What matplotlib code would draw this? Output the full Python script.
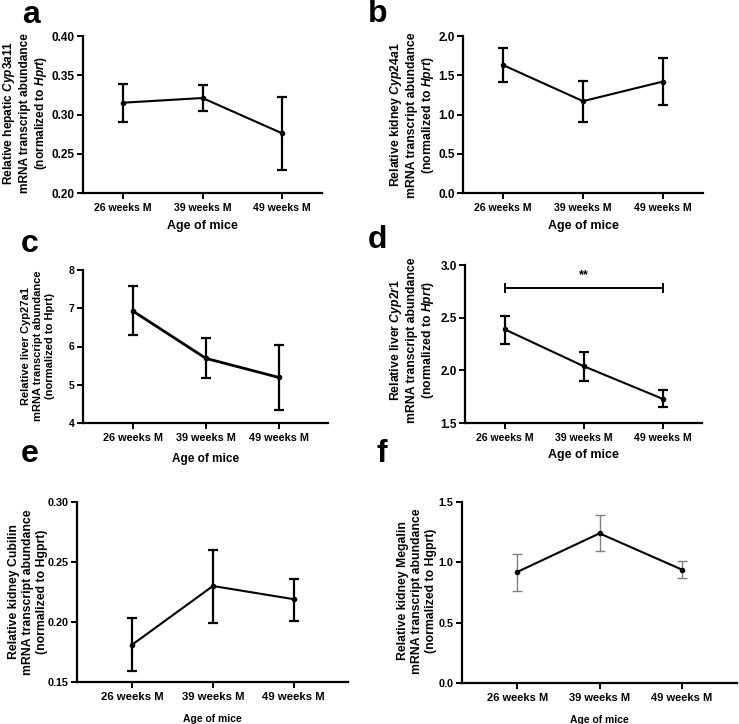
import matplotlib
matplotlib.use('Agg')
import matplotlib.pyplot as plt

plt.rcParams['font.family'] = ['Liberation Sans', 'DejaVu Sans']
plt.rcParams['font.weight'] = 'bold'
plt.rcParams['mathtext.fontset'] = 'custom'
plt.rcParams['mathtext.rm'] = 'Liberation Sans:bold'
plt.rcParams['mathtext.it'] = 'Liberation Sans:italic:bold'
plt.rcParams['mathtext.bf'] = 'Liberation Sans:bold'

groups = ['26 weeks M', '39 weeks M', '49 weeks M']

# mean, lower and upper end of the error bar
a_mean = [0.315, 0.321, 0.276]
a_lo = [0.290, 0.304, 0.229]
a_hi = [0.339, 0.337, 0.322]

b_mean = [1.63, 1.17, 1.42]
b_lo = [1.42, 0.91, 1.12]
b_hi = [1.85, 1.43, 1.72]

c_mean = [6.93, 5.69, 5.19]
c_lo = [6.29, 5.17, 4.34]
c_hi = [7.58, 6.23, 6.04]

d_mean = [2.39, 2.04, 1.73]
d_lo = [2.25, 1.90, 1.65]
d_hi = [2.52, 2.17, 1.81]

e_mean = [0.181, 0.230, 0.219]
e_lo = [0.159, 0.199, 0.201]
e_hi = [0.203, 0.260, 0.236]

f_mean = [0.92, 1.24, 0.94]
f_lo = [0.76, 1.09, 0.87]
f_hi = [1.07, 1.39, 1.01]

fig = plt.figure(figsize=(7.39, 7.24), dpi=100)
W, H = 739, 724


def make_axes(x0, x1, y0, y1):
    return fig.add_axes([x0 / W, 1 - y1 / H, (x1 - x0) / W, (y1 - y0) / H])


def panel(ax, mean, lo, hi, ylim, yticks, ylabels, xlim, ylab, ylab_xy,
          fs_xtick=7.6, fs_ytick=8.5, fs_lab=9, ylab_fs=8.8, err_color='black',
          err_lw=1.6, line_lw=1.5, xpad=5):
    x = range(len(groups))
    yerr = [[m - l for m, l in zip(mean, lo)], [h - m for m, h in zip(mean, hi)]]
    ax.errorbar(x, mean, yerr=yerr, fmt='none', ecolor=err_color,
                elinewidth=err_lw, capsize=3.5, capthick=err_lw, zorder=2)
    ax.plot(x, mean, color='black', lw=line_lw, marker='o', ms=3, zorder=3)
    ax.set_xlim(*xlim)
    ax.set_ylim(*ylim)
    ax.set_yticks(yticks)
    ax.set_yticklabels(ylabels, fontsize=fs_ytick, fontweight='bold')
    ax.set_xticks(list(x))
    ax.set_xticklabels(groups, fontsize=fs_xtick, fontweight='bold')
    ax.set_xlabel('Age of mice', fontsize=fs_lab, fontweight='bold', labelpad=xpad)
    for s in ['top', 'right']:
        ax.spines[s].set_visible(False)
    for s in ['left', 'bottom']:
        ax.spines[s].set_linewidth(1.6)
    ax.tick_params(width=1.4, length=4)
    ax.tick_params(axis='x', pad=3.5)
    ax.tick_params(axis='y', pad=2)
    fig.text(ylab_xy[0] / W, 1 - ylab_xy[1] / H, ylab, rotation=90,
             ha='center', va='center', multialignment='center',
             fontsize=ylab_fs, fontweight='bold', linespacing=1.2)


ax_a = make_axes(83, 322, 36, 193)
panel(ax_a, a_mean, a_lo, a_hi, (0.20, 0.40), [0.20, 0.25, 0.30, 0.35, 0.40],
      ['0.20', '0.25', '0.30', '0.35', '0.40'], (-0.5, 2.5),
      'Relative hepatic $\\mathit{Cyp3a11}$\nmRNA transcript abundance\n(normalized to $\\mathit{Hprt}$)',
      (25, 113), ylab_fs=8.6, xpad=5)

ax_b = make_axes(463, 703, 36, 193)
panel(ax_b, b_mean, b_lo, b_hi, (0.0, 2.0), [0.0, 0.5, 1.0, 1.5, 2.0],
      ['0.0', '0.5', '1.0', '1.5', '2.0'], (-0.5, 2.5),
      'Relative kidney $\\mathit{Cyp24a1}$\nmRNA transcript abundance\n(normalized to $\\mathit{Hprt}$)',
      (412, 115), xpad=5)

ax_c = make_axes(83, 328, 270, 423)
panel(ax_c, c_mean, c_lo, c_hi, (4, 8), [4, 5, 6, 7, 8],
      ['4', '5', '6', '7', '8'], (-0.68, 2.67),
      'Relative liver Cyp27a1\nmRNA transcript abundance\n(normalized to Hprt)',
      (38, 346), fs_xtick=7.8, fs_ytick=7.5, fs_lab=8.5, ylab_fs=8,
      line_lw=2.0, xpad=7)

ax_d = make_axes(465, 702, 265, 423)
panel(ax_d, d_mean, d_lo, d_hi, (1.5, 3.0), [1.5, 2.0, 2.5, 3.0],
      ['1.5', '2.0', '2.5', '3.0'], (-0.5, 2.5),
      'Relative liver $\\mathit{Cyp2r1}$\nmRNA transcript abundance\n(normalized to $\\mathit{Hprt}$)',
      (412, 340), xpad=4)
ax_d.plot([0, 2], [2.785, 2.785], color='black', lw=1.4, marker='|', ms=7, mew=1.4)
ax_d.text(1, 2.90, '**', ha='center', va='center', fontsize=9, fontweight='bold')

ax_e = make_axes(77, 348, 502, 682)
panel(ax_e, e_mean, e_lo, e_hi, (0.15, 0.30), [0.15, 0.20, 0.25, 0.30],
      ['0.15', '0.20', '0.25', '0.30'], (-0.68, 2.67),
      'Relative kidney Cubilin\nmRNA transcript abundance\n(normalized to Hgprt)',
      (28, 592), fs_xtick=8.2, fs_ytick=7.8, fs_lab=7.5, ylab_fs=8.8, xpad=8)

ax_f = make_axes(462, 737, 502, 683)
panel(ax_f, f_mean, f_lo, f_hi, (0.0, 1.5), [0.0, 0.5, 1.0, 1.5],
      ['0.0', '0.5', '1.0', '1.5'], (-0.67, 2.67),
      'Relative kidney Megalin\nmRNA transcript abundance\n(normalized to Hgprt)',
      (417, 591), fs_xtick=8, fs_ytick=7.8, fs_lab=7.5, ylab_fs=8.8,
      err_color='#808080', err_lw=1.0, xpad=8)

for letter, px, py in [('a', 31, 15), ('b', 378, 14), ('c', 30, 244),
                       ('d', 377, 240), ('e', 30, 454), ('f', 382, 454)]:
    fig.text(px / W, 1 - py / H, letter, ha='center', va='center',
             fontsize=23, fontweight='bold')

fig.savefig('out.png', dpi=100)
